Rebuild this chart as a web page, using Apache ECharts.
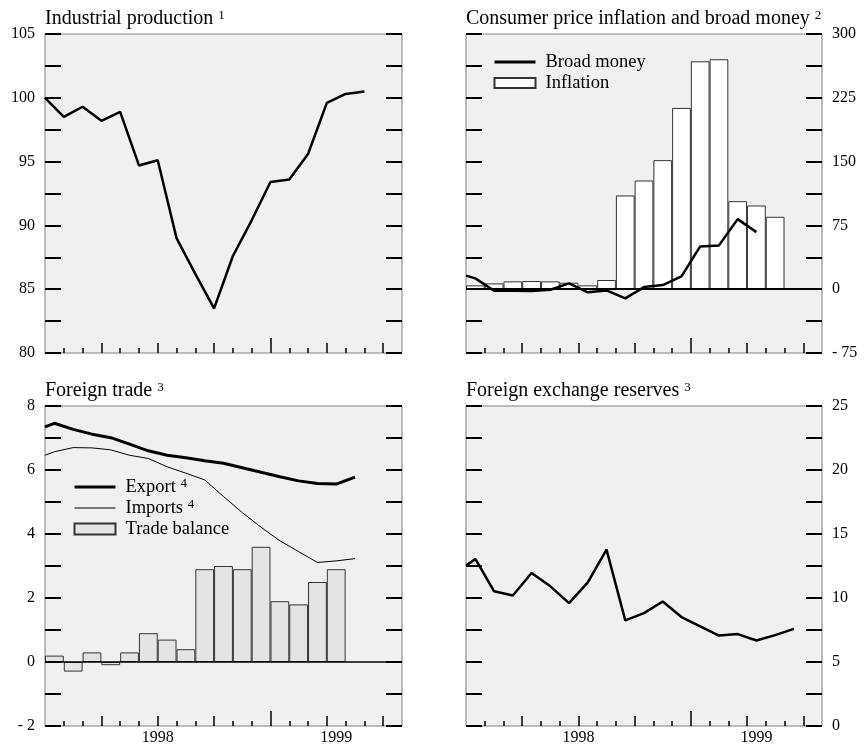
<!DOCTYPE html>
<html>
<head>
<meta charset="utf-8">
<script src="https://cdn.jsdelivr.net/npm/echarts@6/dist/echarts.min.js"></script>
<style>
  html, body { margin: 0; padding: 0; background: #fff; }
  #chart { width: 864px; height: 749px; }
</style>
</head>
<body>
<div id="chart"></div>
<script>
// x runs over months, 0 = Jan 1998, axis ends at 19
var monthTicks = [1, 2, 3, 4, 5, 6, 7, 8, 9, 10, 11, 12, 13, 14, 15, 16, 17, 18];
var quarterTicks = [3, 6, 9, 15, 18];
var yearTicks = [12];
var yearLabelPos = [6, 15.5];
var yearLabels = ['1998', '1999'];

// industrial production - points sit on the month ticks
var industrial = [100, 98.5, 99.3, 98.2, 98.9, 94.7, 95.1, 89.0, 86.2, 83.5, 87.6, 90.4, 93.4, 93.6, 95.6, 99.6, 100.3, 100.5];

// the rest sit mid-month; *Edge = value where the line enters at the left border
var inflation = [4.5, 6.8, 9.2, 9.6, 9.2, 7.6, 4.5, 10.8, 110.2, 127.8, 151.7, 213.1, 267.9, 270.3, 103.5, 98.4, 85.1];
var broadMoneyEdge = 15.9;
var broadMoney = [12.7, -1.8, -1.8, -2.0, -0.6, 6.9, -3.7, -1.4, -10.8, 2.5, 4.8, 15.1, 50.3, 51.5, 82.4, 67.1];

var tradeBalance = [0.2, -0.3, 0.3, -0.1, 0.3, 0.9, 0.7, 0.4, 2.9, 3.0, 2.9, 3.6, 1.9, 1.8, 2.5, 2.9];
var exportEdge = 7.35;
var exports = [7.46, 7.27, 7.12, 7.01, 6.81, 6.60, 6.46, 6.38, 6.29, 6.21, 6.07, 5.93, 5.79, 5.66, 5.58, 5.56, 5.78];
var importEdge = 6.46;
var imports = [6.57, 6.70, 6.69, 6.63, 6.46, 6.36, 6.10, 5.90, 5.69, 5.17, 4.67, 4.21, 3.79, 3.45, 3.11, 3.16, 3.23];

var reservesEdge = 12.53;
var reserves = [13.05, 10.52, 10.2, 11.95, 10.91, 9.6, 11.22, 13.78, 8.25, 8.82, 9.73, 8.51, 7.78, 7.07, 7.18, 6.68, 7.1, 7.59];

var FONT = "'Liberation Serif', 'Times New Roman', serif";

var grids = [
  {left: 45, top: 34, width: 357, height: 319},
  {left: 466, top: 34, width: 356, height: 319},
  {left: 45, top: 406, width: 357, height: 320},
  {left: 466, top: 406, width: 356, height: 320}
];

// y scales: [min, max, tick interval, label step, label side]
var yScales = [
  [80, 105, 2.5, 5, 'left'],
  [-75, 300, 37.5, 75, 'right'],
  [-2, 8, 1, 2, 'left'],
  [0, 25, 2.5, 5, 'right']
];

function merge(a, b) { return echarts.util.merge(echarts.util.clone(a), b, true); }

function onTicks(arr) { return arr.map(function (v, i) { return [i, v]; }); }
function midMonth(arr, edge) {
  var out = arr.map(function (v, i) { return [i + 0.5, v]; });
  if (edge !== undefined) out.unshift([0, edge]);
  return out;
}

function makeXAxes(g, withLabels) {
  var base = {
    type: 'value', gridIndex: g, min: 0, max: 19, position: 'bottom',
    axisLine: {show: false, onZero: false},
    splitLine: {show: false},
    axisLabel: {show: false}
  };
  var tick = function (vals, len) {
    return {show: true, inside: true, length: len, customValues: vals, lineStyle: {color: '#000', width: 1.5}};
  };
  var main = merge(base, {axisTick: tick(monthTicks, 5)});
  if (withLabels) {
    main.axisLabel = {
      show: true, customValues: yearLabelPos, margin: 4,
      fontFamily: FONT, fontSize: 16, color: '#000',
      formatter: function (v) { return yearLabels[yearLabelPos.indexOf(v)]; }
    };
  }
  return [main, merge(base, {axisTick: tick(quarterTicks, 10)}), merge(base, {axisTick: tick(yearTicks, 15)})];
}

function makeYAxes(g) {
  var s = yScales[g];
  var base = {
    type: 'value', gridIndex: g, min: s[0], max: s[1], interval: s[2],
    axisLine: {show: false, onZero: false},
    splitLine: {show: false},
    axisTick: {show: true, inside: true, length: 16, lineStyle: {color: '#000', width: 2}}
  };
  var label = {
    margin: 10, fontFamily: FONT, fontSize: 16, color: '#000',
    formatter: function (v) {
      if (Math.abs(v % s[3]) > 1e-9) return '';
      return v < 0 ? '- ' + (-v) : String(v);
    }
  };
  return ['left', 'right'].map(function (side) {
    return merge(base, {position: side, axisLabel: merge(label, {show: side === s[4]})});
  });
}

var xAxes = [], yAxes = [];
for (var g = 0; g < 4; g++) {
  xAxes = xAxes.concat(makeXAxes(g, g >= 2));
  yAxes = yAxes.concat(makeYAxes(g));
}

function slot(g) { return grids[g].width / 19; }

var zeroLine = function (w) {
  return {silent: true, symbol: ['none', 'none'], label: {show: false},
          lineStyle: {color: '#000', width: w, type: 'solid'}, data: [{yAxis: 0}]};
};

function title(g, text, sup, top) {
  return {
    text: '{t|' + text + '} {s|' + sup + '}',
    left: grids[g].left, top: top, padding: 0,
    textStyle: {
      fontFamily: FONT, fontSize: 20, fontWeight: 'normal', color: '#000',
      rich: {t: {fontFamily: FONT, fontSize: 20, color: '#000'},
             s: {fontFamily: FONT, fontSize: 13, color: '#000', verticalAlign: 'top', lineHeight: 13}}
    }
  };
}

var legendText = {
  fontFamily: FONT, fontSize: 18.5, color: '#000', lineHeight: 20, padding: [0, 0, 0, 5],
  rich: {n: {fontFamily: FONT, fontSize: 18.5, color: '#000', lineHeight: 20},
         s: {fontFamily: FONT, fontSize: 13, color: '#000', verticalAlign: 'top', lineHeight: 13}}
};

// line keys: no marker dot, just the stroke
function lineKey(name, w) {
  return {name: name, itemStyle: {opacity: 0}, lineStyle: {width: w, color: '#000'}};
}

var option = {
  animation: false,
  backgroundColor: '#fff',
  title: [
    title(0, 'Industrial production', '1', 9),
    title(1, 'Consumer price inflation and broad money', '2', 9),
    title(2, 'Foreign trade', '3', 381),
    title(3, 'Foreign exchange reserves', '3', 381)
  ],
  legend: [
    {
      left: 493, top: 52, orient: 'vertical', padding: 0, itemGap: 1,
      itemWidth: 41, itemHeight: 10, selectedMode: false,
      data: [lineKey('Broad money', 3), {name: 'Inflation', icon: 'rect'}],
      textStyle: legendText
    },
    {
      left: 73, top: 477, orient: 'vertical', padding: 0, itemGap: 1,
      itemWidth: 41, itemHeight: 11, selectedMode: false,
      data: [lineKey('Export', 3), lineKey('Imports', 1), {name: 'Trade balance', icon: 'rect'}],
      formatter: function (name) {
        return name === 'Trade balance' ? name : '{n|' + name + '} {s|4}';
      },
      textStyle: legendText
    }
  ],
  grid: grids.map(function (gr) {
    return merge(gr, {show: true, backgroundColor: '#f0f0f0', borderColor: '#808080', borderWidth: 1});
  }),
  xAxis: xAxes,
  yAxis: yAxes,
  series: [
    {
      name: 'Industrial production', type: 'line', xAxisIndex: 0, yAxisIndex: 0,
      data: onTicks(industrial), symbol: 'none',
      lineStyle: {color: '#000', width: 2.5}
    },
    {
      name: 'Inflation', type: 'bar', xAxisIndex: 3, yAxisIndex: 2,
      data: midMonth(inflation), barWidth: slot(1),
      itemStyle: {color: '#fff', borderColor: '#333', borderWidth: 1},
      markLine: zeroLine(2)
    },
    {
      name: 'Broad money', type: 'line', xAxisIndex: 3, yAxisIndex: 2,
      data: midMonth(broadMoney, broadMoneyEdge), symbol: 'none', z: 5,
      lineStyle: {color: '#000', width: 2.5}, itemStyle: {color: '#000'}
    },
    {
      name: 'Trade balance', type: 'bar', xAxisIndex: 6, yAxisIndex: 4,
      data: midMonth(tradeBalance), barWidth: slot(2),
      itemStyle: {color: '#e4e4e4', borderColor: '#333', borderWidth: 1},
      markLine: zeroLine(1.5)
    },
    {
      name: 'Export', type: 'line', xAxisIndex: 6, yAxisIndex: 4,
      data: midMonth(exports, exportEdge), symbol: 'none', z: 5,
      lineStyle: {color: '#000', width: 3}, itemStyle: {color: '#000'}
    },
    {
      name: 'Imports', type: 'line', xAxisIndex: 6, yAxisIndex: 4,
      data: midMonth(imports, importEdge), symbol: 'none', z: 5,
      lineStyle: {color: '#000', width: 1}, itemStyle: {color: '#000'}
    },
    {
      name: 'Foreign exchange reserves', type: 'line', xAxisIndex: 9, yAxisIndex: 6,
      data: midMonth(reserves, reservesEdge), symbol: 'none',
      lineStyle: {color: '#000', width: 2.5}
    }
  ]
};

var chart = echarts.init(document.getElementById('chart'), null, {renderer: 'canvas'});
chart.setOption(option);
</script>
</body>
</html>
